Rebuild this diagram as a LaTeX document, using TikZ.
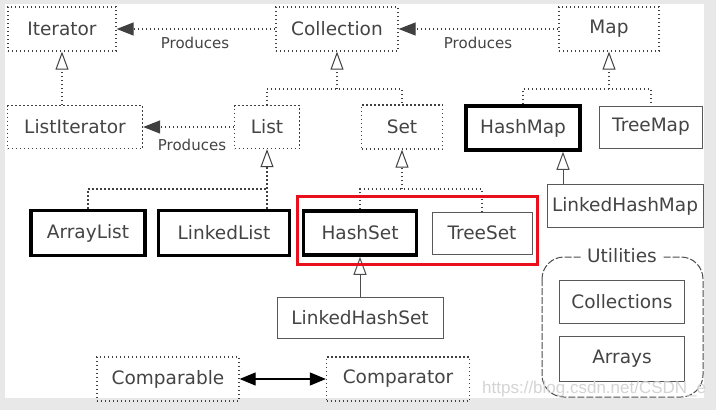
\documentclass[tikz,border=0pt]{standalone}
\usepackage{fontspec}
\setmainfont{DejaVu Sans}
\newfontfamily\wmfont{Liberation Sans}
\usetikzlibrary{arrows.meta}
\definecolor{bggray}{HTML}{E8E8E8}
\definecolor{txt}{HTML}{444444}
\definecolor{hlred}{HTML}{E8101A}
\tikzset{
  every node/.style={font=\fontsize{18.5}{20}\selectfont, text=txt, inner sep=0pt},
  dotbox/.style={draw=black!75, line width=1.3pt, dash pattern=on 1.3pt off 2.7pt, line cap=butt},
  thickbox/.style={draw=black, line width=3.5pt},
  thinbox/.style={draw=black!65, line width=1pt},
  dotline/.style={draw=black!75, line width=1.3pt, dash pattern=on 1.3pt off 2.7pt, line cap=butt},
  solidline/.style={draw=black!70, line width=1pt},
  prod/.style={-{Triangle[length=17pt,width=13pt]}},
  inh/.style={-{Triangle[open,length=18pt,width=13pt,fill=white,line width=1pt]}},
  dbl/.style={{Triangle[length=16pt,width=13pt]}-{Triangle[length=16pt,width=13pt]}},
  lbl/.style={font=\fontsize{15}{17}\selectfont},
}
\begin{document}
\begin{tikzpicture}[x=1pt,y=-1pt]
\useasboundingbox (0,0) rectangle (716,410);
\fill[bggray] (0,0) rectangle (716,410);
\fill[white] (5,4) rectangle (704,398);

% row 1
\node[dotbox, minimum width=108pt, minimum height=44pt] (Iterator) at (62,29) {Iterator};
\node[dotbox, minimum width=122pt, minimum height=44pt] (Collection) at (337,29) {Collection};
\node[dotbox, minimum width=100pt, minimum height=44pt] (Map) at (609,29) {Map};
% row 2
\node[dotbox, minimum width=135pt, minimum height=43pt] (ListIterator) at (75,127) {ListIterator};
\node[dotbox, minimum width=65pt, minimum height=43pt] (List) at (267,127) {List};
\node[dotbox, minimum width=81pt, minimum height=44pt] (Set) at (402,127) {Set};
\node[thickbox, minimum width=114pt, minimum height=44pt] (HashMap) at (523,128) {HashMap};
\node[thinbox, minimum width=103pt, minimum height=42pt] (TreeMap) at (651,127) {TreeMap};
% row 3
\node[thickbox, minimum width=114pt, minimum height=45pt] (ArrayList) at (88,233) {ArrayList};
\node[thickbox, minimum width=131pt, minimum height=45pt] (LinkedList) at (224,233) {LinkedList};
\node[thickbox, minimum width=113pt, minimum height=44pt] (HashSet) at (360,233) {HashSet};
\node[thinbox, minimum width=100pt, minimum height=42pt] (TreeSet) at (482,233) {TreeSet};
\node[thinbox, minimum width=156pt, minimum height=43pt] (LinkedHashMap) at (625,206) {LinkedHashMap};
% row 4
\node[thinbox, minimum width=166pt, minimum height=41pt] (LinkedHashSet) at (360,318) {LinkedHashSet};
\node[thinbox, minimum width=125pt, minimum height=43pt] (Collections) at (622,302) {Collections};
\node[thinbox, minimum width=125pt, minimum height=45pt] (Arrays) at (622,359) {Arrays};
% row 5
\node[dotbox, minimum width=142pt, minimum height=44pt] (Comparable) at (168,379) {Comparable};
\node[dotbox, minimum width=143pt, minimum height=44pt] (Comparator) at (398,379) {Comparator};

% produces connectors
\draw[dotline, prod] (Collection.west) -- (Iterator.east);
\node[lbl] (p1) at (195,43) {Produces};
\draw[dotline, prod] (Map.west) -- (Collection.east);
\node[lbl] (p2) at (478,43) {Produces};
\draw[dotline, prod] (List.west) -- (ListIterator.east);
\node[lbl] (p3) at (192,145) {Produces};

% inheritance
\draw[dotline, inh] (ListIterator.north -| Iterator.south) -- (Iterator.south);

\coordinate (cj) at (337,89);
\draw[dotline] (List.north) -- (List.north |- cj) -- (Set.north |- cj) -- (Set.north);
\draw[dotline, inh] (cj) -- (Collection.south);

\coordinate (mj) at (609,89);
\draw[dotline] (HashMap.north) -- (HashMap.north |- mj) -- (TreeMap.north |- mj) -- (TreeMap.north);
\draw[dotline, inh] (mj) -- (Map.south);

\coordinate (lj) at (267,189);
\draw[dotline] (ArrayList.north) -- (ArrayList.north |- lj) -- (lj);
\draw[dotline, inh] (LinkedList.north -| List.south) -- (List.south);

\coordinate (sj) at (402,189);
\draw[dotline] (HashSet.north) -- (HashSet.north |- sj) -- (TreeSet.north |- sj) -- (TreeSet.north);
\draw[dotline, inh] (sj) -- (Set.south);

\draw[solidline, inh] (LinkedHashSet.north) -- (HashSet.south);
\coordinate (lhm) at (563,0);
\draw[solidline, inh] (LinkedHashMap.north -| lhm) -- (HashMap.south -| lhm);

% comparable <-> comparator
\draw[solidline, line width=1.2pt, draw=black, dbl] (Comparable.east) -- (Comparator.west);

% red highlight
\draw[hlred, line width=3pt] (297,196) rectangle (537,264);

% utilities group
\draw[black!70, line width=1pt, dash pattern=on 7pt off 2pt, rounded corners=22pt] (542,257) rectangle (703,397);
\node[fill=white, inner xsep=5pt, inner ysep=2pt] (Utilities) at (622,256) {Utilities};

% watermark
\node[anchor=base west, font=\wmfont\fontsize{17}{19}\selectfont, text=black!17] (wm) at (482,393) {https://blog.csdn.net/CSDN\_e};
\end{tikzpicture}
\end{document}
